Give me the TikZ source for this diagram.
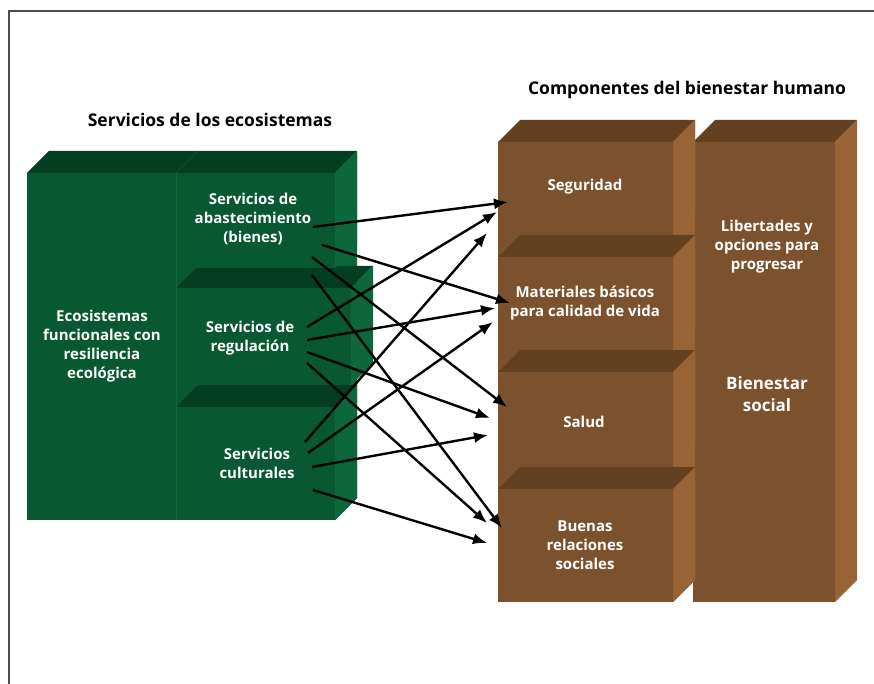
\documentclass[tikz,border=0pt]{standalone}
\usepackage{fontspec}
\setmainfont{Open Sans}
\usetikzlibrary{arrows.meta}

\definecolor{verde}{RGB}{8,88,50}
\definecolor{verdeT}{RGB}{4,62,34}
\definecolor{verdeS}{RGB}{12,104,58}
\definecolor{cafe}{RGB}{124,82,46}
\definecolor{cafeT}{RGB}{98,64,32}
\definecolor{cafeS}{RGB}{152,100,54}

\tikzset{
  rotulo/.style={align=center,text=white,inner sep=0,font=\bfseries\fontsize{15}{19}\selectfont},
  titulo/.style={inner sep=0,font=\bfseries\fontsize{17.5}{20}\selectfont},
  cara/.style={inner sep=0,outer sep=0,anchor=north west},
  flecha/.style={-{Latex[length=14pt,width=11pt]},line width=2.4pt},
}

% box: name, x0, y0, x1, y1, front, top, side
\newcommand{\caja}[8]{%
  \fill[#7] (#2,#3) -- (#4,#3) -- (#4+22,#3-22) -- (#2+22,#3-22) -- cycle;
  \fill[#8] (#4,#3) -- (#4+22,#3-22) -- (#4+22,#5-22) -- (#4,#5) -- cycle;
  \node[cara,fill=#6,minimum width={(#4-#2)*1pt},minimum height={(#5-#3)*1pt}] (#1) at (#2,#3) {};
}

\begin{document}
\begin{tikzpicture}[x=1pt,y=-1pt]
\useasboundingbox (0,0) rectangle (874,684);
\draw[gray!60!black,line width=1.2pt] (874,11) -- (9,11) -- (9,684);

% ecosistemas
\caja{eco}{27}{173}{176}{520}{verde}{verdeT}{verdeS}
\fill[verde] (176,173) rectangle (200,520);
\fill[verdeS] (335,173) -- (357,151) -- (357,498) -- (335,520) -- cycle;
\caja{cult}{176}{407}{335}{520}{verde}{verdeT}{verdeS}
\caja{regul}{176}{288}{351}{385}{verde}{verdeT}{verdeS}
\caja{abast}{176}{173}{335}{268}{verde}{verdeT}{verdeS}
\draw[verdeS,line width=0.8pt] (176,173) -- (176,520);

% bienestar
\caja{libert}{693}{142}{835}{602}{cafe}{cafeT}{cafeS}
\fill[cafe] (498,142) rectangle (522,602);
\fill[cafeS] (673,142) -- (695,120) -- (695,580) -- (673,602) -- cycle;
\caja{buenas}{498}{489}{673}{602}{cafe}{cafeT}{cafeS}
\caja{salud}{498}{372}{673}{467}{cafe}{cafeT}{cafeS}
\caja{mater}{498}{257}{673}{350}{cafe}{cafeT}{cafeS}
\caja{segur}{498}{142}{673}{235}{cafe}{cafeT}{cafeS}

\node[titulo] (tServ) at (210,120) {Servicios de los ecosistemas};
\node[titulo] (tComp) at (687,90) {Componentes del bienestar humano};

\node[rotulo] (ecoT) at (102,346) {Ecosistemas\\funcionales con\\resiliencia\\ecológica};
\node[rotulo] (abastT) at (253,219) {Servicios de\\abastecimiento\\(bienes)};
\node[rotulo] (regulT) at (250,338) {Servicios de\\regulación};
\node[rotulo] (cultT) at (257,463) {Servicios\\culturales};
\node[rotulo] (segurT) at (585,187) {Seguridad};
\node[rotulo] (materT) at (585,303) {Materiales básicos\\para calidad de vida};
\node[rotulo] (saludT) at (584,422) {Salud};
\node[rotulo] (buenasT) at (585,545) {Buenas\\relaciones\\sociales};
\node[rotulo] (libertT) at (767,247) {Libertades y\\opciones para\\progresar};
\node[rotulo,font=\bfseries\fontsize{17}{22}\selectfont] (bienT) at (767,394) {Bienestar\\social};

% servicios -> componentes
\foreach \a/\ax/\ay/\b/\bx/\by in {
  abast/-22/6.5/segur/10/13.5, abast/-13/24.5/mater/12/-0.5,
  abast/-23/36.5/salud/9/-12.5, abast/-23/54.5/buenas/4/-17.5,
  regul/-44/-9.5/segur/-1/23.5, regul/-44/3.5/mater/-3/4.5,
  regul/-44/15.5/salud/-8/-1.5, regul/-44/26.5/buenas/-11/-22.5,
  cult/-30/-21.5/segur/-11/44.5, cult/-27/-10.5/mater/-5/18.5,
  cult/-23/3.5/salud/-10/15.5, cult/-22/26.5/buenas/-11/-2.5}
  \draw[flecha] ([shift={(\ax,\ay)}]\a.east) -- ([shift={(\bx,\by)}]\b.west);
\end{tikzpicture}
\end{document}
